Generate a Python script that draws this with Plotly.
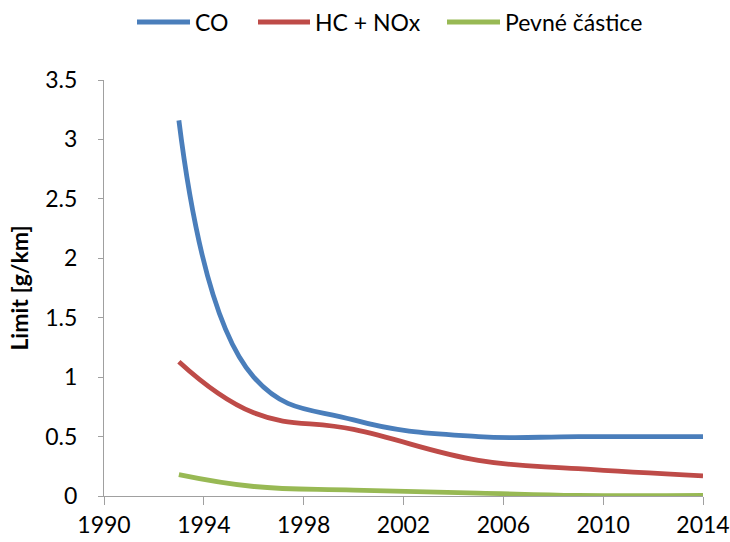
import plotly.graph_objects as go

# Emission limits for diesel passenger cars [g/km]
years = [1993, 1996, 2000, 2005, 2009, 2014]
co = [3.16, 1.0, 0.64, 0.50, 0.50, 0.50]
hc_nox = [1.13, 0.70, 0.56, 0.30, 0.23, 0.17]
pm = [0.18, 0.08, 0.05, 0.025, 0.005, 0.005]

names = ["CO", "HC + NOx", "Pevné částice"]
colors = ["#4A7EBB", "#BE4B48", "#98B954"]
values = [co, hc_nox, pm]

x_ticks = [1990, 1994, 1998, 2002, 2006, 2010, 2014]

FONT = "Lato, Liberation Sans, sans-serif"

# plot area in pixels
W, H = 730, 542
L, R, T, B = 104, 27, 80, 46
PW, PH = W - L - R, H - T - B


def px_x(px):
    return (px - L) / PW


def px_y(py):
    return (H - B - py) / PH


fig = go.Figure()
for name, vals, color in zip(names, values, colors):
    fig.add_trace(go.Scatter(
        x=years, y=vals, name=name, mode="lines", showlegend=False,
        line=dict(color=color, width=4.8, shape="spline", smoothing=1.2),
    ))

# legend row across the top: a line sample followed by the series name
legend_line_px = [(137, 190), (258, 310), (447, 500)]
legend_y = px_y(22)
for (x0, x1), name, color in zip(legend_line_px, names, colors):
    fig.add_shape(type="line", xref="paper", yref="paper",
                  x0=px_x(x0), x1=px_x(x1), y0=legend_y, y1=legend_y,
                  line=dict(color=color, width=4.8))
    fig.add_annotation(xref="paper", yref="paper", x=px_x(x1 + 3), y=legend_y,
                       text=name, showarrow=False, xanchor="left", yanchor="middle",
                       font=dict(size=23, family=FONT, color="#000000"))

fig.update_layout(
    width=W, height=H,
    margin=dict(l=L, r=R, t=T, b=B),
    paper_bgcolor="white", plot_bgcolor="white",
    font=dict(family=FONT, size=23, color="#000000"),
    showlegend=False,
    xaxis=dict(
        range=[1990, 2014], tickvals=x_ticks, ticktext=[str(t) for t in x_ticks],
        showgrid=False, zeroline=False, showline=True, linecolor="#A0A0A0", linewidth=1,
        ticks="outside", ticklen=8, tickcolor="#A0A0A0", automargin=False,
    ),
    yaxis=dict(
        range=[0, 3.5], dtick=0.5, tickformat="~g",
        showgrid=False, zeroline=False, showline=True, linecolor="#A0A0A0", linewidth=1,
        ticks="outside", ticklen=5, tickcolor="#A0A0A0", ticklabelstandoff=16,
        automargin=False,
        title=dict(text="<b>Limit [g/km]</b>", font=dict(size=23), standoff=10),
    ),
)

fig.write_html("out.html")
